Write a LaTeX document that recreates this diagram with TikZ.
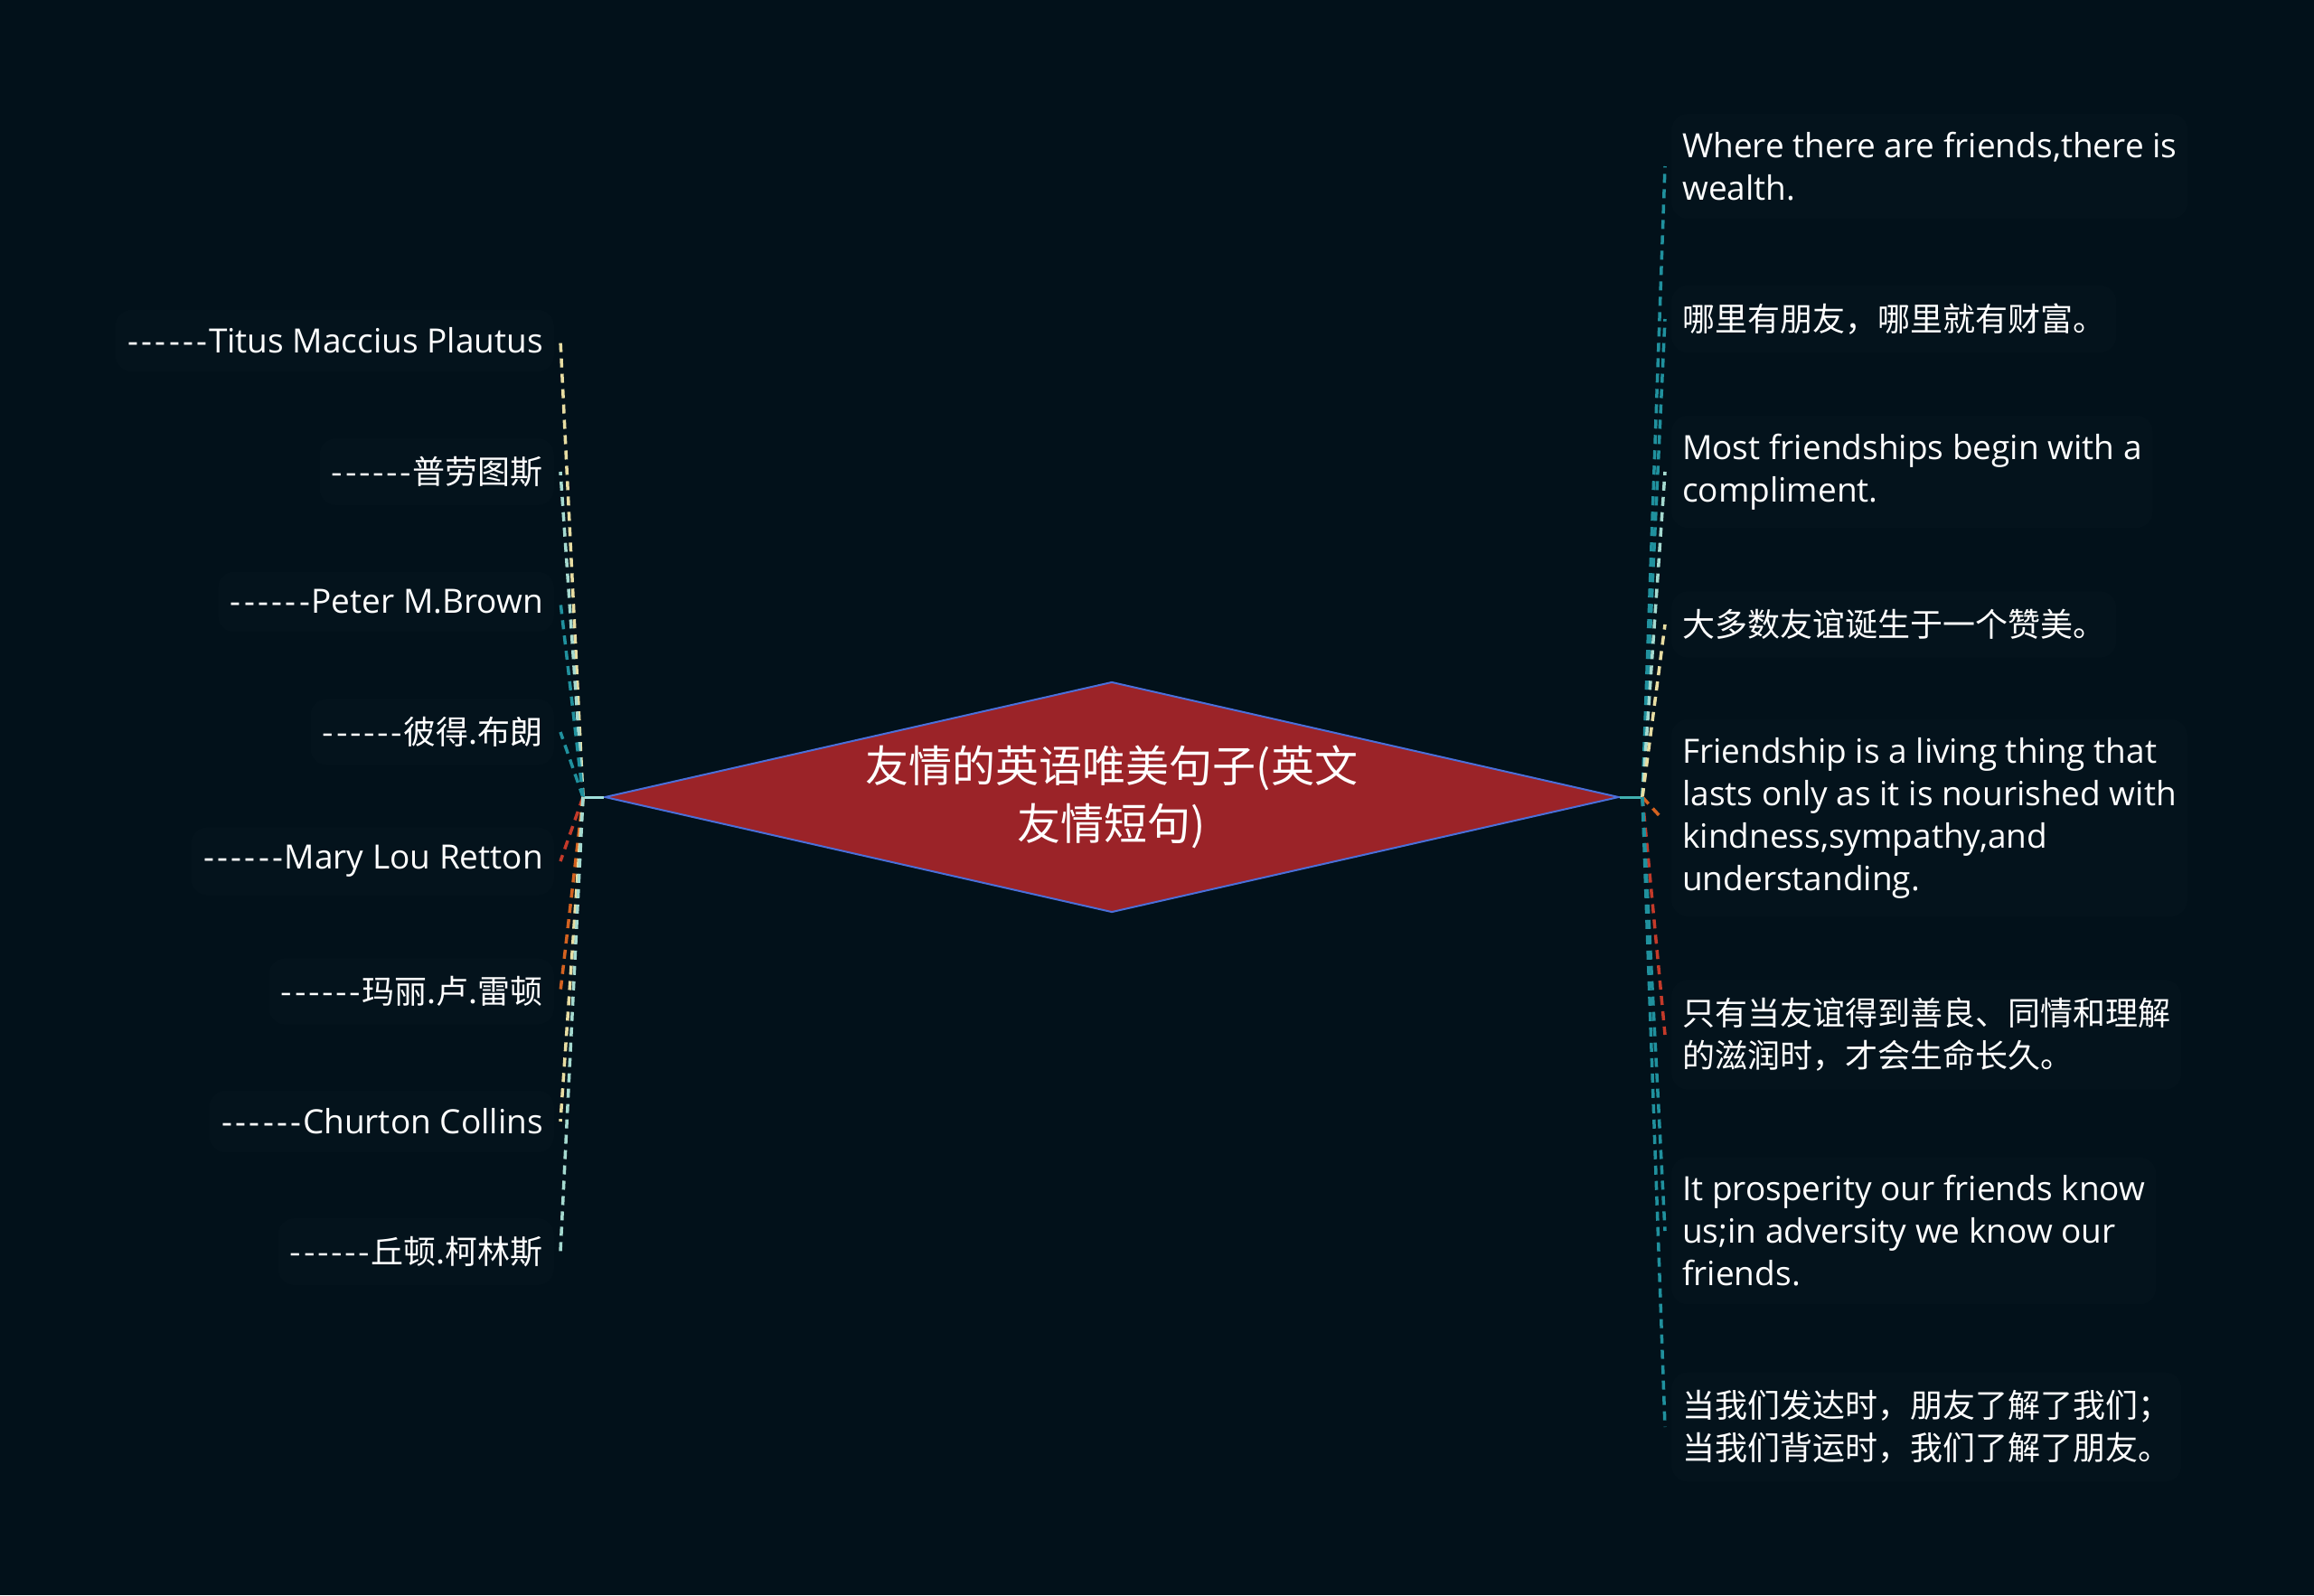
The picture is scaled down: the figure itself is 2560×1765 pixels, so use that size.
\documentclass[tikz,border=0pt]{standalone}
\usepackage{fontspec}
\setmainfont[Ligatures=ResetAll]{Open Sans}
\newfontfamily\cjk[Ligatures=ResetAll]{Noto Sans CJK SC}
\usetikzlibrary{shapes.geometric}
\newcommand{\onedash}{\makebox[15.2pt][c]{-}}
\newcommand{\sixdash}{\onedash\onedash\onedash\onedash\onedash\onedash}
\definecolor{bg}{RGB}{2,17,26}
\definecolor{boxbg}{RGB}{4,19,28}
\definecolor{rootfill}{RGB}{155,35,40}
\definecolor{rootline}{RGB}{75,111,217}
\definecolor{cbeige}{RGB}{232,221,162}
\definecolor{cteal}{RGB}{32,145,158}
\definecolor{cmint}{RGB}{165,218,208}
\definecolor{corange}{RGB}{212,98,32}
\definecolor{cred}{RGB}{196,58,42}
\definecolor{stubL}{RGB}{160,224,220}
\definecolor{stubR}{RGB}{64,176,176}
\tikzset{
  leaf/.style={fill=boxbg, rounded corners=18pt, inner xsep=12pt, inner ysep=20pt,
    text=white, font=\fontsize{37}{47}\selectfont},
  cjkleaf/.style={font=\cjk\fontsize{36}{47}\selectfont},
  leafL/.style={leaf, anchor=east, align=right},
  leafR/.style={leaf, anchor=west, align=left},
  conn/.style={line width=3.5pt, dash pattern=on 10pt off 7pt},
}
\begin{document}
\begin{tikzpicture}[x=1pt,y=-1pt]
\fill[bg] (0,0) rectangle (2560,1765);
\useasboundingbox (0,0) rectangle (2560,1765);

% root
\node[diamond, fill=rootfill, draw=rootline, line width=2pt, inner sep=0pt,
  minimum width=1122pt, minimum height=255pt, aspect=4.4,
  text=white, align=center, font=\cjk\fontsize{48}{64}\selectfont] (root) at (1230,882)
  {友情的英语唯美句子(英文\\友情短句)};

\coordinate (oL) at (645,882);
\coordinate (oR) at (1817,882);
\draw[stubL, line width=3pt] (root.west) -- (oL);
\draw[stubR, line width=3pt] (root.east) -- (oR);

% left leaves
\node[leafL] (L1) at (613,377) {\sixdash Titus Maccius Plautus};
\node[leafL, cjkleaf] (L2) at (613,522) {\sixdash 普劳图斯};
\node[leafL] (L3) at (613,666) {\sixdash Peter M.Brown};
\node[leafL, cjkleaf] (L4) at (613,810) {\sixdash 彼得.布朗};
\node[leafL] (L5) at (613,953) {\sixdash Mary Lou Retton};
\node[leafL, cjkleaf] (L6) at (613,1097) {\sixdash 玛丽.卢.雷顿};
\node[leafL] (L7) at (613,1241) {\sixdash Churton Collins};
\node[leafL, cjkleaf] (L8) at (613,1385) {\sixdash 丘顿.柯林斯};

% right leaves
\node[leafR] (R1) at (1849,184) {Where there are friends,there is\\wealth.};
\node[leafR, cjkleaf] (R2) at (1849,353) {哪里有朋友，哪里就有财富。};
\node[leafR] (R3) at (1849,522) {Most friendships begin with a\\compliment.};
\node[leafR, cjkleaf] (R4) at (1849,691) {大多数友谊诞生于一个赞美。};
\node[leafR] (R5) at (1849,905) {Friendship is a living thing that\\lasts only as it is nourished with\\kindness,sympathy,and\\understanding.};
\node[leafR, cjkleaf] (R6) at (1849,1145) {只有当友谊得到善良、同情和理解\\的滋润时，才会生命长久。};
\node[leafR] (R7) at (1849,1362) {It prosperity our friends know\\us;in adversity we know our\\friends.};
\node[leafR, cjkleaf] (R8) at (1849,1579) {当我们发达时，朋友了解了我们；\\当我们背运时，我们了解了朋友。};

% left connectors
\draw[conn, cbeige]  (oL) -- ([xshift=7pt]L1.east);
\draw[conn, cmint]   (oL) -- ([xshift=7pt]L2.east);
\draw[conn, cteal]   (oL) -- ([xshift=7pt]L3.east);
\draw[conn, cteal]   (oL) -- ([xshift=7pt]L4.east);
\draw[conn, cred]    (oL) -- ([xshift=7pt]L5.east);
\draw[conn, corange] (oL) -- ([xshift=7pt]L6.east);
\draw[conn, cbeige]  (oL) -- ([xshift=7pt]L7.east);
\draw[conn, cmint]   (oL) -- ([xshift=7pt]L8.east);

% right connectors
\draw[conn, cteal]   (oR) -- ([xshift=-7pt]R1.west);
\draw[conn, cteal]   (oR) -- ([xshift=-7pt]R2.west);
\draw[conn, cmint]   (oR) -- ([xshift=-7pt]R3.west);
\draw[conn, cbeige]  (oR) -- ([xshift=-7pt]R4.west);
\draw[conn, corange] (oR) -- ([xshift=-11pt]R5.west);
\draw[conn, cred]    (oR) -- ([xshift=-7pt]R6.west);
\draw[conn, cteal]   (oR) -- ([xshift=-7pt]R7.west);
\draw[conn, cteal]   (oR) -- ([xshift=-7pt]R8.west);
\end{tikzpicture}
\end{document}
